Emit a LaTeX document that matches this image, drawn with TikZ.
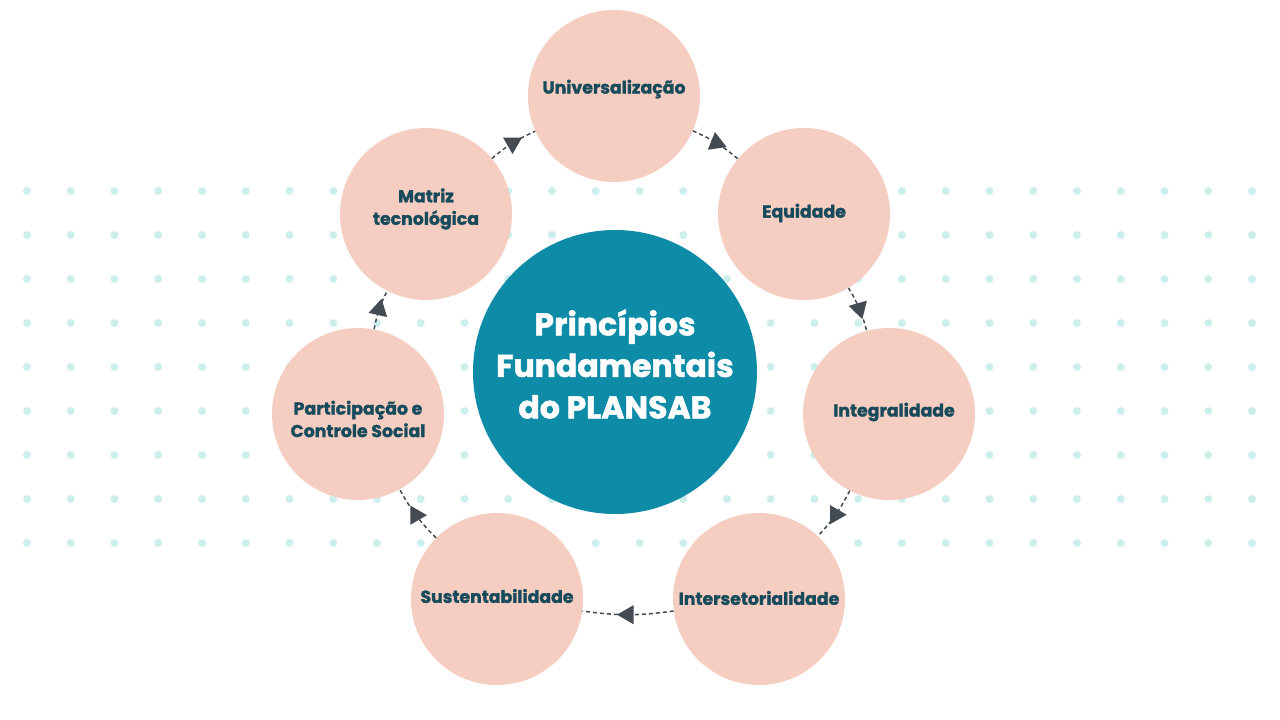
\documentclass[tikz,border=0pt]{standalone}
\usepackage{fontspec}
\setmainfont{Poppins}[BoldFeatures={FakeBold=1.6}]
\usetikzlibrary{shapes.geometric}
\definecolor{dotc}{HTML}{CDEFEC}
\definecolor{pinkc}{HTML}{F6CBBE}
\definecolor{tealc}{HTML}{0E8CA7}
\definecolor{txtc}{HTML}{174A5B}
\definecolor{arrc}{HTML}{454B53}
\tikzset{
  pinkcirc/.style={circle, fill=pinkc, fill opacity=0.94, minimum size=172pt, inner sep=0pt},
  pinklabel/.style={text=txtc, font=\bfseries\fontsize{17.3}{22.5}\selectfont, align=center, inner sep=0pt},
  flowline/.style={draw=arrc, line width=1.5pt, dash pattern=on 4pt off 3pt, bend left=8},
  tri/.style={regular polygon, regular polygon sides=3, fill=arrc, minimum size=22pt, inner sep=0pt},
}
\begin{document}
\begin{tikzpicture}[x=1pt,y=1pt]
\useasboundingbox (0,0) rectangle (1280,720);
\fill[white] (0,0) rectangle (1280,720);
% dot grid
\foreach \i in {0,...,28} {
  \foreach \j in {0,...,8} {
    \fill[dotc] ({27+43.75*\i},{529-44*\j}) circle (4);
  }
}
% circles
\node[pinkcirc] (U) at (614,624) {};
\node[pinkcirc] (E) at (804,506) {};
\node[pinkcirc] (I) at (889,306) {};
\node[pinkcirc] (X) at (759,121) {};
\node[pinkcirc] (S) at (497,121) {};
\node[pinkcirc] (P) at (358,306) {};
\node[pinkcirc] (M) at (426,506) {};
\node[circle, fill=tealc, minimum size=284pt, inner sep=0pt] (C) at (615,348) {};
% labels
\node[pinklabel] (tU) at (614,631) {Universalização};
\node[pinklabel] (tE) at (804,507) {Equidade};
\node[pinklabel] (tI) at (894,308) {Integralidade};
\node[pinklabel] (tX) at (759,122) {Intersetorialidade};
\node[pinklabel] (tS) at (497,124) {Sustentabilidade};
\node[pinklabel] (tP) at (358,301) {Participação e\\Controle Social};
\node[pinklabel] (tM) at (426,511) {Matriz\\tecnológica};
\node[text=white, font=\bfseries\fontsize{31.5}{41.5}\selectfont, align=center, inner sep=0pt] (tC) at (615,356) {Princípios\\Fundamentais\\do PLANSAB};
% connectors
\draw[flowline] (U) to node[tri, rotate=8] (a1) {} (E);
\draw[flowline] (E) to node[tri, rotate=-164] (a2) {} (I);
\draw[flowline] (I) to node[tri, rotate=-90] (a3) {} (X);
\draw[flowline] (X) to node[tri, rotate=90] (a4) {} (S);
\draw[flowline] (S) to node[tri, rotate=-90] (a5) {} (P);
\draw[flowline] (P) to node[tri, rotate=-13] (a6) {} (M);
\draw[flowline] (M) to node[tri, rotate=180] (a7) {} (U);
\end{tikzpicture}
\end{document}
